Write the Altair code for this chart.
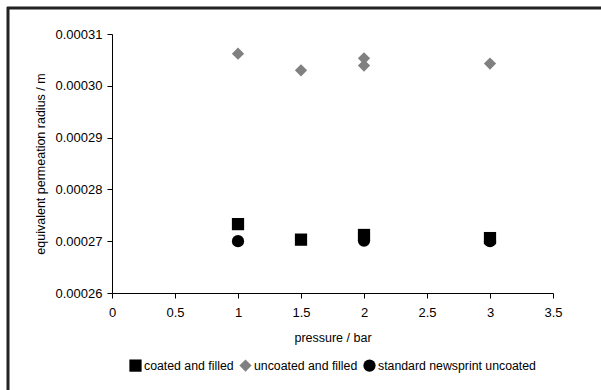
import altair as alt
import pandas as pd

series_names = ["coated and filled", "uncoated and filled", "standard newsprint uncoated"]

coated_x = [1, 1.5, 2, 3]
coated_y = [0.0002733, 0.0002703, 0.0002712, 0.0002706]

uncoated_x = [1, 1.5, 2, 2, 3]
uncoated_y = [0.0003062, 0.0003030, 0.0003053, 0.0003039, 0.0003043]

newsprint_x = [1, 2, 3]
newsprint_y = [0.0002700, 0.0002701, 0.0002700]

x_ticks = [0, 0.5, 1, 1.5, 2, 2.5, 3, 3.5]
y_ticks = [0.00026, 0.00027, 0.00028, 0.00029, 0.00030, 0.00031]

rows = []
for name, xs, ys in [(series_names[0], coated_x, coated_y),
                     (series_names[1], uncoated_x, uncoated_y),
                     (series_names[2], newsprint_x, newsprint_y)]:
    for a, b in zip(xs, ys):
        rows.append({"series": name, "pressure": a, "radius": b})
df = pd.DataFrame(rows)

FONT = "Liberation Sans"

legend = alt.Legend(
    title=None, orient="none", direction="horizontal",
    legendX=17, legendY=325, labelFont=FONT, labelFontSize=12.3,
    labelColor="black", symbolSize=70, symbolStrokeWidth=0,
    columnPadding=5, labelOffset=2, labelLimit=0,
)

points = alt.Chart(df).mark_point(filled=True, opacity=1, strokeWidth=0).encode(
    x=alt.X("pressure:Q", scale=alt.Scale(domain=[0, 3.5], nice=False),
            axis=alt.Axis(title="pressure / bar", values=x_ticks, format="~g", grid=False,
                          domainColor="black", tickColor="black", tickSize=5,
                          labelColor="black", labelFont=FONT, labelFontSize=13,
                          labelPadding=8, titleFont=FONT, titleFontSize=12.5,
                          titleFontWeight="normal", titleColor="black", titlePadding=12,
                          labelFlush=False)),
    y=alt.Y("radius:Q", scale=alt.Scale(domain=[0.00026, 0.00031], nice=False, zero=False),
            axis=alt.Axis(title="equivalent permeation radius / m", values=y_ticks, format=".5f",
                          grid=False, domainColor="black", tickColor="black", tickSize=5,
                          labelColor="black", labelFont=FONT, labelFontSize=13,
                          labelPadding=5, titleFont=FONT, titleFontSize=12.5,
                          titleFontWeight="normal", titleColor="black", titlePadding=8)),
    shape=alt.Shape("series:N", scale=alt.Scale(domain=series_names,
                                                range=["square", "diamond", "circle"]),
                    legend=legend),
    color=alt.Color("series:N", scale=alt.Scale(domain=series_names,
                                                range=["black", "#808080", "black"]),
                    legend=legend),
    size=alt.Size("series:N", scale=alt.Scale(domain=series_names, range=[150, 150, 100]),
                  legend=None),
)

frame_df = pd.DataFrame({"k": [0]})
top_line = alt.Chart(frame_df).mark_rule(color="#222222", strokeWidth=3).encode(
    x=alt.value(-105), x2=alt.value(489), y=alt.value(-26))
left_line = alt.Chart(frame_df).mark_rule(color="#222222", strokeWidth=3).encode(
    x=alt.value(-104), y=alt.value(-27), y2=alt.value(356))

chart = alt.layer(points, top_line, left_line).properties(
    width=441, height=259,
    autosize=alt.AutoSizeParams(type="none"),
    padding={"left": 112, "top": 34, "right": 48, "bottom": 97},
    background="white",
).configure_view(stroke=None)

chart.save("out.html", embed_options={"renderer": "svg", "actions": False})
